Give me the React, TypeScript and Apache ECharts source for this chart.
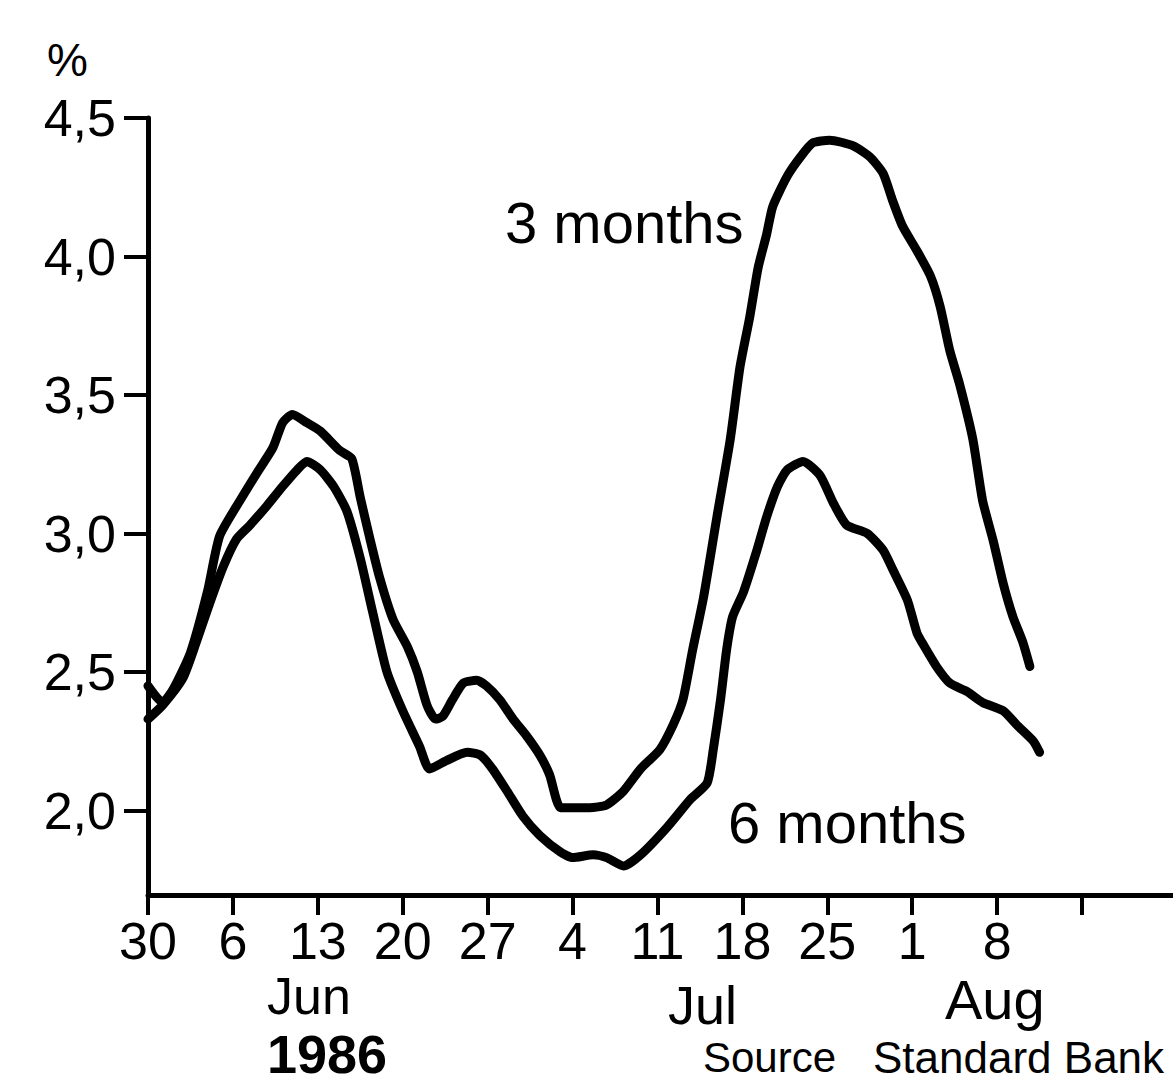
import React, { useEffect, useRef } from 'react';
import * as echarts from 'echarts';

// x axis: days since 30 May 1986
const tickDays = [0, 7, 14, 21, 28, 35, 42, 49, 56, 63, 70, 77];
const tickLabels = ['30', '6', '13', '20', '27', '4', '11', '18', '25', '1', '8', ''];
const yTicks = [2.0, 2.5, 3.0, 3.5, 4.0, 4.5];

const days3m = [0, 1.2, 2.1, 3.5, 4.9, 5.9, 7.6, 9.0, 10.3, 11.1, 11.9, 13.1, 14.2, 15.8, 16.8, 17.5, 18.3, 19.1, 20.2, 21.4, 22.2, 23.0, 23.7, 24.3, 25.1, 26.0, 27.1, 27.9, 29.0, 30.1, 31.2, 32.3, 33.1, 34.0, 35.0, 36.4, 37.8, 39.2, 40.6, 42.2, 43.3, 44.1, 44.9, 45.8, 46.9, 48.0, 48.8, 49.6, 50.3, 51.0, 51.5, 52.7, 53.8, 54.8, 56.2, 58.1, 59.5, 60.6, 61.4, 62.2, 63.4, 64.5, 65.3, 66.1, 66.9, 68.0, 68.8, 69.7, 70.5, 71.3, 72.1, 72.7];
const values3m = [2.45, 2.39, 2.44, 2.57, 2.79, 2.99, 3.12, 3.22, 3.31, 3.40, 3.43, 3.40, 3.37, 3.30, 3.27, 3.13, 2.98, 2.84, 2.69, 2.59, 2.50, 2.38, 2.33, 2.34, 2.40, 2.46, 2.47, 2.45, 2.40, 2.33, 2.27, 2.20, 2.13, 2.01, 2.01, 2.01, 2.02, 2.07, 2.15, 2.22, 2.31, 2.40, 2.58, 2.77, 3.06, 3.34, 3.60, 3.78, 3.96, 4.08, 4.18, 4.29, 4.36, 4.41, 4.42, 4.40, 4.36, 4.30, 4.20, 4.11, 4.02, 3.93, 3.82, 3.66, 3.54, 3.34, 3.12, 2.97, 2.82, 2.70, 2.61, 2.52];

const days6m = [0, 1.2, 2.9, 4.0, 5.1, 6.2, 7.3, 8.4, 9.8, 11.1, 12.3, 13.1, 14.2, 15.3, 16.4, 17.5, 18.5, 19.7, 21.0, 22.4, 23.2, 24.6, 26.3, 27.4, 28.4, 29.6, 30.9, 32.3, 34.0, 35.0, 36.7, 37.8, 39.2, 40.6, 42.8, 44.7, 46.1, 46.6, 47.2, 47.7, 48.2, 49.1, 50.2, 51.0, 51.9, 52.7, 54.0, 55.4, 56.5, 57.6, 59.3, 60.6, 61.4, 62.6, 63.4, 63.9, 65.0, 66.1, 67.5, 68.8, 70.5, 71.6, 73.0, 73.5];
const values6m = [2.33, 2.38, 2.48, 2.61, 2.75, 2.88, 2.98, 3.03, 3.10, 3.17, 3.23, 3.26, 3.23, 3.17, 3.08, 2.91, 2.72, 2.50, 2.36, 2.23, 2.15, 2.18, 2.21, 2.20, 2.15, 2.07, 1.98, 1.91, 1.85, 1.83, 1.84, 1.83, 1.80, 1.84, 1.94, 2.04, 2.10, 2.22, 2.40, 2.58, 2.70, 2.79, 2.94, 3.06, 3.17, 3.23, 3.26, 3.21, 3.11, 3.03, 3.00, 2.94, 2.87, 2.76, 2.64, 2.60, 2.52, 2.46, 2.43, 2.39, 2.36, 2.31, 2.25, 2.21];

const FONT = 'Liberation Sans, Arial, sans-serif';

function txt(text: string, x: number, y: number, size: number, weight: string = 'normal') {
  return {
    type: 'text',
    x,
    y,
    silent: true,
    style: {
      text,
      fontFamily: FONT,
      fontSize: size,
      fontWeight: weight,
      fill: '#000',
      align: 'left',
      verticalAlign: 'middle',
    },
  };
}

export default function App() {
  const ref = useRef<HTMLDivElement>(null);
  useEffect(() => {
    if (!ref.current) return;
    const chart = echarts.init(ref.current, null, { renderer: 'svg' });
    const line = (days: number[], vals: number[], name: string) => ({
      type: 'line',
      name,
      data: days.map((d, i) => [d, vals[i]]),
      showSymbol: false,
      smooth: 0.2,
      lineStyle: { color: '#000', width: 9, cap: 'round', join: 'round' },
    });
    chart.setOption({
      animation: false,
      backgroundColor: '#fff',
      grid: { left: 148, right: 0, top: 118, bottom: 188, containLabel: false },
      xAxis: {
        type: 'value',
        min: 0,
        max: 84.5,
        axisLine: { show: true, lineStyle: { color: '#000', width: 5 } },
        axisTick: { show: true, customValues: tickDays, length: 20, lineStyle: { color: '#000', width: 4 } },
        axisLabel: {
          show: true,
          customValues: tickDays,
          formatter: (v: number) => {
            const i = tickDays.indexOf(Math.round(v));
            return i >= 0 ? tickLabels[i] : '';
          },
          fontFamily: FONT,
          fontSize: 52,
          color: '#000',
          margin: 20,
        },
        splitLine: { show: false },
      },
      yAxis: {
        type: 'value',
        min: 1.695,
        max: 4.5,
        axisLine: { show: true, lineStyle: { color: '#000', width: 5 } },
        axisTick: { show: true, customValues: yTicks, length: 24, lineStyle: { color: '#000', width: 4 } },
        axisLabel: {
          show: true,
          customValues: yTicks,
          formatter: (v: number) => v.toFixed(1).replace('.', ','),
          fontFamily: FONT,
          fontSize: 52,
          color: '#000',
          margin: 32,
        },
        splitLine: { show: false },
      },
      series: [line(days3m, values3m, '3 months'), line(days6m, values6m, '6 months')],
      graphic: [
        txt('%', 47, 60, 46),
        txt('3 months', 505, 222, 58),
        txt('6 months', 728, 822, 58),
        txt('Jun', 267, 996, 52),
        txt('1986', 267, 1054, 54, 'bold'),
        txt('Jul', 668, 1005, 54),
        txt('Aug', 945, 999, 56),
        txt('Source', 703, 1057, 42),
        txt('Standard Bank', 873, 1057, 44),
      ],
    });
    return () => chart.dispose();
  }, []);
  return (
    <div
      ref={ref}
      style={{ position: 'fixed', left: 0, top: 0, width: 1173, height: 1083, background: '#fff' }}
    />
  );
}
